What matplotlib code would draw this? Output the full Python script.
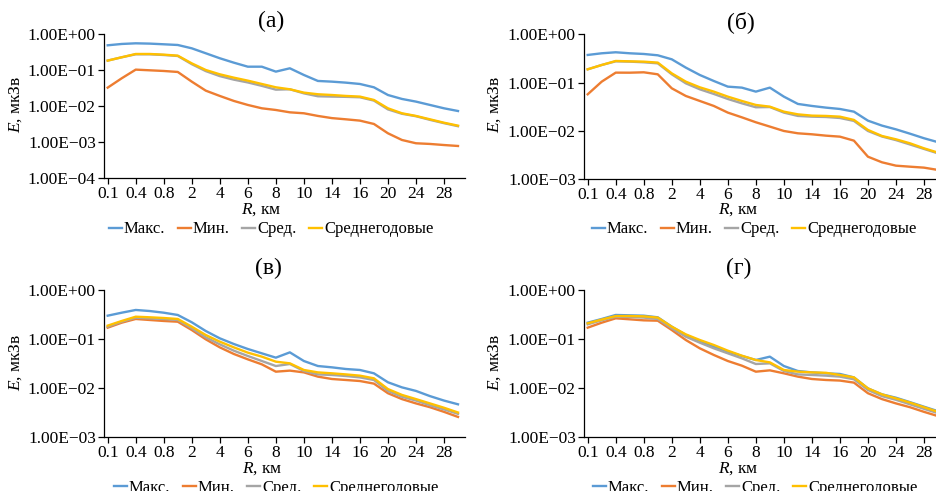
import matplotlib
matplotlib.use("Agg")
import matplotlib.pyplot as plt
from matplotlib.lines import Line2D
from matplotlib.ticker import FixedLocator, FuncFormatter, NullLocator

plt.rcParams["font.family"] = ["Liberation Serif", "DejaVu Serif"]
plt.rcParams["mathtext.fontset"] = "custom"
plt.rcParams["mathtext.rm"] = "Liberation Serif"
plt.rcParams["mathtext.it"] = "Liberation Serif:italic"

W, H = 936, 491

# distance from the source, km (category axis)
distances = ["0.1", "0.2", "0.4", "0.6", "0.8", "1", "2", "3", "4", "5", "6", "7", "8",
             "9", "10", "12", "14", "15", "16", "18", "20", "22", "24", "26", "28", "30"]

series_names = ["Макс.", "Мин.", "Сред.", "Среднегодовые"]
series_colors = ["#5B9BD5", "#ED7D31", "#A5A5A5", "#FFC000"]

# (а)
a_max = [0.495, 0.539, 0.562, 0.551, 0.528, 0.505, 0.408, 0.297, 0.216, 0.163, 0.126, 0.126, 0.0919,
         0.1137, 0.0742, 0.0506, 0.0484, 0.0454, 0.0417, 0.0337, 0.0206, 0.016, 0.0135, 0.0109, 0.0088, 0.0074]
a_min = [0.033, 0.06, 0.1044, 0.1, 0.0958, 0.0899, 0.0484, 0.0272, 0.0194, 0.0141, 0.0109, 0.0088, 0.0079,
         0.0068, 0.0064, 0.0054, 0.0047, 0.00435, 0.004, 0.00323, 0.00178, 0.00116, 0.00094, 0.0009, 0.00084, 0.00079]
a_mean = [0.186, 0.23, 0.278, 0.278, 0.266, 0.25, 0.148, 0.095, 0.069, 0.055, 0.046, 0.037, 0.029,
          0.0297, 0.0229, 0.019, 0.0186, 0.0183, 0.0178, 0.0144, 0.0082, 0.0062, 0.0053, 0.0042, 0.0034, 0.0028]
a_annual = [0.186, 0.23, 0.284, 0.284, 0.272, 0.255, 0.156, 0.102, 0.0774, 0.0625, 0.0516, 0.0417, 0.0337,
            0.0297, 0.024, 0.0216, 0.0206, 0.0194, 0.0186, 0.015, 0.0088, 0.0064, 0.0054, 0.00435, 0.0035, 0.0029]

# (б)
b_max = [0.373, 0.404, 0.424, 0.404, 0.391, 0.367, 0.303, 0.204, 0.1435, 0.1077, 0.0822, 0.0784, 0.0648,
         0.0784, 0.051, 0.036, 0.0327, 0.0302, 0.0283, 0.0249, 0.0162, 0.0128, 0.0107, 0.0087, 0.007, 0.0058]
b_min = [0.057, 0.1044, 0.1604, 0.16, 0.163, 0.148, 0.0759, 0.0527, 0.0415, 0.0327, 0.0238, 0.019, 0.015,
         0.0122, 0.0099, 0.00886, 0.00845, 0.00792, 0.00755, 0.00624, 0.0029, 0.00222, 0.00189, 0.0018, 0.00172, 0.00154]
b_mean = [0.188, 0.231, 0.275, 0.271, 0.263, 0.25, 0.148, 0.0964, 0.0724, 0.058, 0.0456, 0.0371, 0.0307,
          0.031, 0.0238, 0.0203, 0.0196, 0.0193, 0.0184, 0.016, 0.0099, 0.0076, 0.0064, 0.0052, 0.0042, 0.0034]
b_annual = [0.188, 0.231, 0.28, 0.275, 0.271, 0.259, 0.155, 0.1044, 0.0796, 0.0648, 0.051, 0.0415, 0.0343,
            0.0316, 0.0249, 0.0219, 0.0206, 0.0203, 0.0196, 0.0168, 0.0104, 0.0078, 0.00665, 0.0055, 0.00433, 0.00352]

# (в)
c_max = [0.3, 0.345, 0.392, 0.373, 0.345, 0.31, 0.22, 0.146, 0.1037, 0.0795, 0.0629, 0.0513, 0.0419,
         0.0537, 0.0358, 0.0283, 0.0266, 0.0246, 0.0235, 0.0201, 0.0132, 0.0104, 0.0088, 0.0069, 0.0056, 0.0047]
c_min = [0.171, 0.216, 0.257, 0.245, 0.234, 0.226, 0.153, 0.0989, 0.0679, 0.0498, 0.0387, 0.0306, 0.0217,
         0.0228, 0.021, 0.0172, 0.0154, 0.0147, 0.014, 0.0124, 0.0079, 0.006, 0.0049, 0.0041, 0.0033, 0.0026]
c_mean = [0.179, 0.226, 0.273, 0.264, 0.257, 0.245, 0.166, 0.1086, 0.0782, 0.0581, 0.0453, 0.0358, 0.0283,
          0.0311, 0.0224, 0.0191, 0.0186, 0.0177, 0.0166, 0.0147, 0.0088, 0.0067, 0.0056, 0.0045, 0.0037, 0.003]
c_annual = [0.188, 0.234, 0.286, 0.278, 0.269, 0.257, 0.179, 0.121, 0.0887, 0.0679, 0.053, 0.0439, 0.0347,
            0.0321, 0.0235, 0.021, 0.0201, 0.0191, 0.018, 0.0159, 0.0096, 0.0073, 0.006, 0.0049, 0.004, 0.0032]

# (г)
d_max = [0.216, 0.257, 0.31, 0.305, 0.3, 0.278, 0.179, 0.121, 0.0915, 0.0701, 0.0555, 0.0453, 0.0375,
         0.0439, 0.0283, 0.0224, 0.021, 0.0201, 0.0195, 0.0166, 0.0099, 0.0075, 0.0064, 0.0052, 0.0042, 0.0034]
d_min = [0.171, 0.216, 0.265, 0.253, 0.241, 0.237, 0.153, 0.0959, 0.0649, 0.0475, 0.0358, 0.0288, 0.0217,
         0.0231, 0.0201, 0.0172, 0.0154, 0.0147, 0.0143, 0.013, 0.0079, 0.006, 0.0049, 0.0041, 0.0033, 0.0027]
d_mean = [0.2, 0.241, 0.286, 0.282, 0.274, 0.257, 0.166, 0.112, 0.0846, 0.0649, 0.0513, 0.0406, 0.0311,
          0.0321, 0.0224, 0.0191, 0.0186, 0.018, 0.0172, 0.0152, 0.0092, 0.0069, 0.0058, 0.0047, 0.0038, 0.0031]
d_annual = [0.21, 0.25, 0.295, 0.295, 0.291, 0.274, 0.179, 0.125, 0.0959, 0.0759, 0.0581, 0.046, 0.0375,
            0.0336, 0.0235, 0.0217, 0.021, 0.0206, 0.0186, 0.0166, 0.0099, 0.0075, 0.0062, 0.0051, 0.0041, 0.0033]

panels = [
    ("(а)", [a_max, a_min, a_mean, a_annual], 1e-4),
    ("(б)", [b_max, b_min, b_mean, b_annual], 1e-3),
    ("(в)", [c_max, c_min, c_mean, c_annual], 1e-3),
    ("(г)", [d_max, d_min, d_mean, d_annual], 1e-3),
]

# pixel boxes: (left, top, right, bottom) of each plot area, plus text anchors
boxes = [(103.5, 34.3, 465.0, 178.3), (583.5, 34.3, 945.0, 179.0),
         (103.5, 290.0, 465.0, 437.3), (583.5, 290.0, 945.0, 437.3)]
title_xy = [(271, 21.7), (741, 21.7), (268, 268.3), (739, 268.3)]
ylabel_xy = [(15.5, 104), (495, 104), (15.5, 362.5), (495, 362.5)]
xlabel_xy = [(261, 210), (738, 210), (262, 468.3), (738.5, 468.3)]
legend_xy = [(271, 229.5), (754, 229.5), (276, 487.5), (755, 487.5)]


def fx(px):
    return px / W


def fy(py):
    return 1 - py / H


def sci(v, _pos):
    return f"{v:.2E}".replace("-", "\u2212")


fig = plt.figure(figsize=(W / 100, H / 100), dpi=100)

for k, (title, values, ymin) in enumerate(panels):
    left, top, right, bottom = boxes[k]
    ax = fig.add_axes([fx(left), fy(bottom), fx(right - left), (bottom - top) / H])
    x = list(range(len(distances)))
    for vals, color in zip(values, series_colors):
        ax.plot(x, vals, color=color, linewidth=1.7, solid_joinstyle="round")

    ax.set_yscale("log")
    ax.set_ylim(ymin, 1.0)
    ax.set_xlim(-0.3, 25.5)
    decades = [10.0 ** p for p in range(0, -5, -1) if 10.0 ** p >= ymin * 0.999]
    ax.yaxis.set_major_locator(FixedLocator(decades))
    ax.yaxis.set_minor_locator(NullLocator())
    ax.yaxis.set_major_formatter(FuncFormatter(sci))
    ax.set_xticks(x[::2])
    ax.set_xticklabels(distances[::2])

    for side in ("top", "right"):
        ax.spines[side].set_visible(False)
    for side in ("left", "bottom"):
        ax.spines[side].set_linewidth(0.9)
    ax.tick_params(axis="both", direction="out", length=4, width=0.9, labelsize=12.5, pad=1.5)

    fig.text(fx(title_xy[k][0]), fy(title_xy[k][1]), title, ha="center", va="center", fontsize=17)
    fig.text(fx(ylabel_xy[k][0]), fy(ylabel_xy[k][1]), "$E$, мкЗв", rotation=90,
             ha="center", va="center", fontsize=12.5)
    fig.text(fx(xlabel_xy[k][0]), fy(xlabel_xy[k][1]), "$R$, км", ha="center", va="center", fontsize=12.5)

    handles = [Line2D([], [], color=c, linewidth=1.7) for c in series_colors]
    fig.legend(handles, series_names, loc="center", bbox_to_anchor=(fx(legend_xy[k][0]), fy(legend_xy[k][1])),
               ncol=4, frameon=False, fontsize=12, handlelength=0.8, handletextpad=0.1,
               columnspacing=0.75, borderpad=0, borderaxespad=0)

fig.savefig("out.png", dpi=100)
